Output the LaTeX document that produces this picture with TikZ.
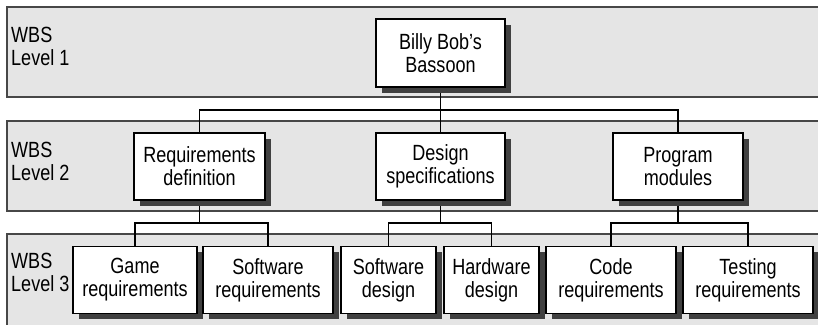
\documentclass[tikz,border=0pt]{standalone}
\usepackage{fontspec}
\setmainfont{Liberation Sans}[FakeStretch=0.82]
\usetikzlibrary{shadows,backgrounds}
\tikzstyle{every path}=[line cap=rect, line join=miter]
\tikzstyle{band}=[draw=black!72, fill=black!10, line width=1.5pt]
\tikzstyle{lbl}=[anchor=north west, inner sep=0pt, align=left, font=\fontsize{22}{22.5}\selectfont]
\tikzstyle{wbsbox}=[draw, fill=white, line width=1.4pt, align=center, inner sep=0pt,
  minimum height=67pt, font=\fontsize{22}{23}\selectfont,
  drop shadow={opacity=1, fill=black!75, shadow xshift=6pt, shadow yshift=-5.5pt}]
\tikzstyle{link}=[line width=1.7pt, to path={(\tikztostart) -- ++(0,22.5) -| (\tikztotarget)}]

\begin{document}
\begin{tikzpicture}[x=1pt, y=-1pt]
          \useasboundingbox (0,0) rectangle (818,324);
          %nivel 1
          \node[wbsbox, minimum width=129pt, minimum height=68pt] (raiz) at (440.5,53) {Billy Bob’s\\Bassoon};
          %nivel 2
          \node[wbsbox, minimum width=131pt] (reqdef) at (199.5,166.5) {Requirements\\definition};
          \node[wbsbox, minimum width=129pt] (desspec) at (440.5,166.5) {Design\\specifications};
          \node[wbsbox, minimum width=130pt] (progmod) at (678,166.5) {Program\\modules};
          %nivel 3
          \node[wbsbox, minimum width=124pt] (gamereq) at (135,280) {Game\\requirements};
          \node[wbsbox, minimum width=130pt] (swreq) at (268,280) {Software\\requirements};
          \node[wbsbox, minimum width=95pt] (swdes) at (388.5,280) {Software\\design};
          \node[wbsbox, minimum width=95pt] (hwdes) at (491.5,280) {Hardware\\design};
          \node[wbsbox, minimum width=130pt] (codereq) at (611,280) {Code\\requirements};
          \node[wbsbox, minimum width=130pt] (testreq) at (748,280) {Testing\\requirements};
          %etiquetas
          \node[lbl] (lvl1) at (11,27) {WBS\\Level 1};
          \node[lbl] (lvl2) at (11,142) {WBS\\Level 2};
          \node[lbl] (lvl3) at (11,253) {WBS\\Level 3};
          \begin{scope}[on background layer]
            %bandas
            \draw[band] (7,7) rectangle (830,97);
            \draw[band] (7,121) rectangle (830,211);
            \draw[band] (7,234) rectangle (830,340);
            %lineas
            \draw[link] (raiz.south) to (reqdef.north);
            \draw[link] (raiz.south) to (desspec.north);
            \draw[link] (raiz.south) to (progmod.north);
            \draw[link] (reqdef.south) to (gamereq.north);
            \draw[link] (reqdef.south) to (swreq.north);
            \draw[link] (desspec.south) to (swdes.north);
            \draw[link] (desspec.south) to (hwdes.north);
            \draw[link] (progmod.south) to (codereq.north);
            \draw[link] (progmod.south) to (testreq.north);
          \end{scope}
        \end{tikzpicture}
\end{document}
